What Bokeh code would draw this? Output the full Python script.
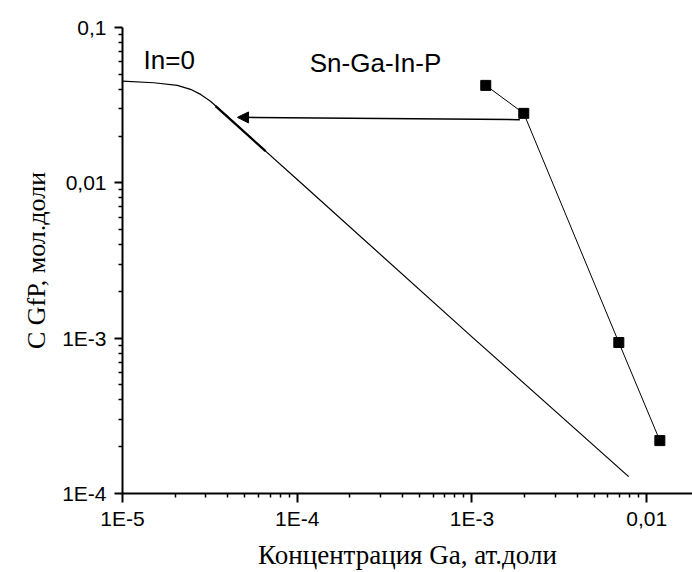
from bokeh.plotting import figure
from bokeh.models import FixedTicker, CustomJSTickFormatter, Arrow, NormalHead, Range1d
from bokeh.core.properties import value
from bokeh.embed import file_html
from bokeh.resources import INLINE

# In=0 curve
curve_x = [1.0e-5, 1.51e-5, 2.06e-5, 2.45e-5, 2.80e-5, 3.19e-5, 3.64e-5, 4.54e-5, 5.62e-5, 1.0e-4, 1.0e-3, 7.89e-3]
curve_y = [0.0452, 0.0441, 0.0424, 0.0400, 0.0371, 0.0335, 0.0293, 0.0235, 0.0188, 0.0105, 0.00102, 1.285e-4]
# short thicker overlapping piece of the curve
bold_x = [3.41e-5, 6.59e-5]
bold_y = [0.0312, 0.0160]
# Sn-Ga-In-P experimental points
sn_x = [1.20e-3, 1.98e-3, 6.93e-3, 0.0119]
sn_y = [0.0424, 0.0280, 9.38e-4, 2.19e-4]
# arrow (start -> end)
arrow_x = [1.88e-3, 4.55e-5]
arrow_y = [0.0255, 0.0264]

x_ticks = [1e-5, 1e-4, 1e-3, 1e-2]
x_tick_labels = ["1E-5", "1E-4", "1E-3", "0,01"]
y_ticks = [1e-4, 1e-3, 1e-2, 1e-1]
y_tick_labels = ["1E-4", "1E-3", "0,01", "0,1"]
x_minor = [m * d for d in [1e-5, 1e-4, 1e-3, 1e-2] for m in range(2, 10)]
y_minor = [m * d for d in [1e-4, 1e-3, 1e-2] for m in range(2, 10)]

p = figure(width=692, height=572, x_axis_type="log", y_axis_type="log",
           x_range=Range1d(1e-5, 0.0183), y_range=Range1d(1e-4, 0.1),
           output_backend="svg", toolbar_location=None,
           min_border_left=122, min_border_top=27, min_border_right=0, min_border_bottom=78)
p.outline_line_color = None
p.xgrid.visible = False
p.ygrid.visible = False
p.background_fill_color = "white"
p.border_fill_color = "white"

fmt_code = """
for (let i = 0; i < ticks_v.length; i++) {
  if (Math.abs(Math.log10(tick) - Math.log10(ticks_v[i])) < 1e-6) return labels_v[i];
}
return "";
"""
p.xaxis.ticker = FixedTicker(ticks=x_ticks, minor_ticks=x_minor)
p.yaxis.ticker = FixedTicker(ticks=y_ticks, minor_ticks=y_minor)
p.xaxis.formatter = CustomJSTickFormatter(args=dict(ticks_v=x_ticks, labels_v=x_tick_labels), code=fmt_code)
p.yaxis.formatter = CustomJSTickFormatter(args=dict(ticks_v=y_ticks, labels_v=y_tick_labels), code=fmt_code)

for ax in (p.xaxis, p.yaxis):
    ax.axis_line_width = 2
    ax.major_tick_line_width = 2
    ax.minor_tick_line_width = 1.5
    ax.major_tick_in = 0
    ax.minor_tick_in = 0
    ax.minor_tick_out = 4
    ax.major_label_text_font = "Liberation Sans"
    ax.major_label_text_font_size = "21px"
    ax.major_label_text_color = "black"
    ax.axis_label_text_font = "Liberation Serif"
    ax.axis_label_text_font_style = "normal"
    ax.axis_label_text_color = "black"

p.xaxis.major_tick_out = 9
p.xaxis.major_label_standoff = 4
p.xaxis.axis_label = "Концентрация Ga, ат.доли"
p.xaxis.axis_label_text_font_size = "27px"
p.xaxis.axis_label_standoff = 7

p.yaxis.major_tick_out = 8
p.yaxis.major_label_standoff = 8
p.yaxis.axis_label = "С GfP, мол.доли"
p.yaxis.axis_label_text_font_size = "26px"
p.yaxis.axis_label_standoff = 8

p.line(curve_x, curve_y, line_color="black", line_width=1.2)
p.line(bold_x, bold_y, line_color="black", line_width=2.2)
p.line(sn_x, sn_y, line_color="black", line_width=1)
p.scatter(sn_x, sn_y, marker="square", size=10, fill_color="black", line_color="black")

p.add_layout(Arrow(end=NormalHead(size=11, fill_color="black", line_color="black", line_width=1),
                   x_start=arrow_x[0], y_start=arrow_y[0], x_end=arrow_x[1], y_end=arrow_y[1],
                   line_color="black", line_width=1.5))

p.text(x=[1.32e-5], y=[0.0614], text=["In=0"], text_font=value("Liberation Sans"),
       text_font_size="26px", text_baseline="middle", text_align="left", text_color="black")
p.text(x=[1.18e-4], y=[0.0587], text=["Sn-Ga-In-P"], text_font=value("Liberation Sans"),
       text_font_size="26px", text_baseline="middle", text_align="left", text_color="black")

open("out.html", "w").write(file_html(p, INLINE))
